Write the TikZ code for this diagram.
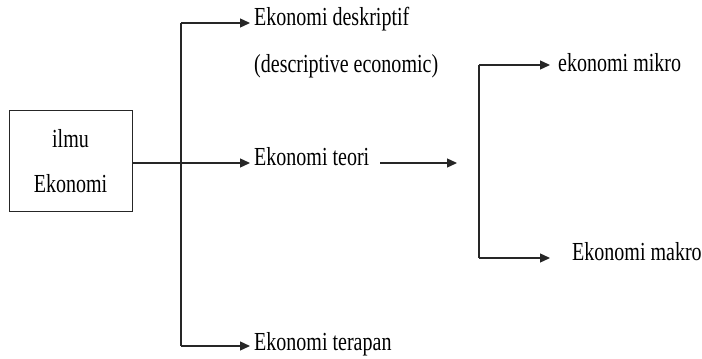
\documentclass[tikz,border=0pt]{standalone}
\usepackage{fontspec}
\setmainfont[FakeStretch=0.77]{Liberation Serif}
\usetikzlibrary{arrows.meta,calc}
\tikzset{
  lbl/.style={anchor=mid west,inner xsep=4pt,inner ysep=0pt,font=\fontsize{26}{30}\selectfont},
  conn/.style={line width=1.3pt,draw=black!85},
  arr/.style={conn,-{Triangle[length=10pt,width=9pt]}},
  mainbox/.style={draw=black!85,line width=1pt,minimum width=123pt,minimum height=101pt,align=center,inner sep=0pt,font=\fontsize{26}{45}\selectfont}
}
\begin{document}
\begin{tikzpicture}[x=1pt,y=-1pt]
\useasboundingbox (0,0) rectangle (702,359);
% main box
\node[mainbox] (ilmu) at (70.5,161) {ilmu\\Ekonomi};
% left spine
\coordinate (sTop) at (181,23);
\coordinate (sBot) at (181,346);
\node[lbl] (desk) at (250,23) {Ekonomi deskriptif};
\node[lbl] (descen) at (250,70) {(descriptive economic)};
\node[lbl] (teori) at (250,163) {Ekonomi teori};
\node[lbl] (terapan) at (250,348) {Ekonomi terapan};
\draw[conn] (sTop) -- (sBot);
\draw[arr] (sTop) -- (sTop -| desk.west);
\draw[arr] (sBot) -- (sBot -| terapan.west);
\draw[arr] (ilmu.east |- teori.mid west) -- (teori.mid west);
% teori arrow
\coordinate (tEnd) at (457,163);
\draw[arr] ([xshift=7pt]teori.mid east) -- (tEnd);
% right bracket
\coordinate (rTop) at (479,65);
\coordinate (rBot) at (479,258);
\node[lbl] (mikro) at (554,69) {ekonomi mikro};
\node[lbl] (makro) at (568,258) {Ekonomi makro};
\draw[conn] (rTop) -- (rBot);
\draw[arr] (rTop) -- ($(rTop -| mikro.west)+(-4,0)$);
\draw[arr] (rBot) -- ($(rBot -| makro.west)+(-18,0)$);
\end{tikzpicture}
\end{document}
